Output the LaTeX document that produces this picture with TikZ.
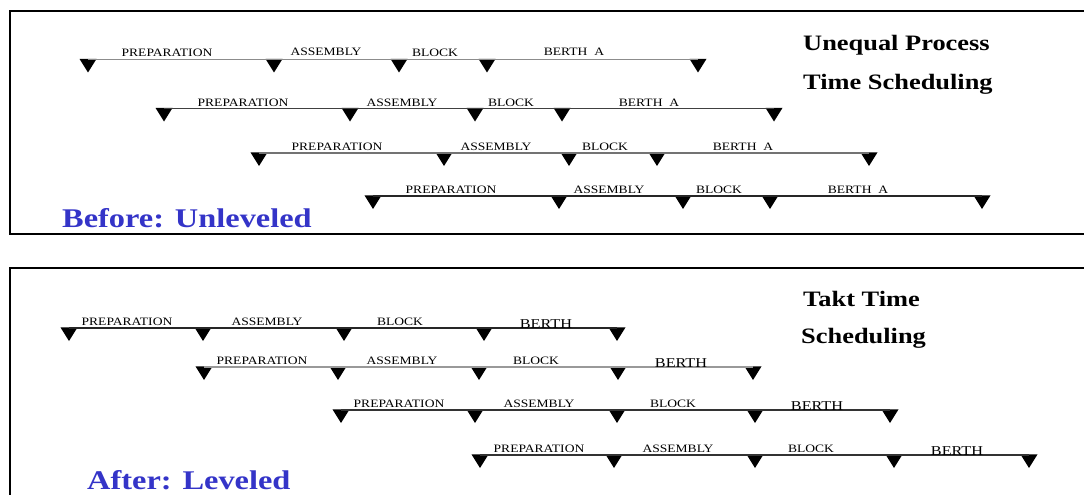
\documentclass[tikz,border=0pt]{standalone}
\usepackage{fontspec}
\newfontfamily\schedfont{Liberation Serif}[FakeStretch=1.2]
\usetikzlibrary{positioning}
\definecolor{phaseblue}{RGB}{52,52,200}

\begin{document}
\begin{tikzpicture}[
        x=1pt, y=-1pt,
        frame/.style={draw=black, line width=2.4pt},
        bar/.style={line width=1.3pt},
        lbl/.style={font=\schedfont\fontsize{11.3}{11.3}\selectfont, inner sep=0pt, anchor=base},
        berth/.style={font=\schedfont\fontsize{13.5}{13.5}\selectfont, inner sep=0pt, anchor=base},
        title/.style={font=\schedfont\bfseries\fontsize{22}{22}\selectfont, inner sep=0pt, anchor=base west},
        phase/.style={font=\schedfont\bfseries\fontsize{27}{27}\selectfont, text=phaseblue, inner sep=0pt, anchor=base west},
        pics/tri/.style={code={\fill (-8.5,-0.6) -- (8.5,-0.6) -- (0,13) -- cycle;}}
    ]
        \useasboundingbox (0,0) rectangle (1084,495);

        % frames
        \draw[frame] (1090,11) -- (10,11) -- (10,234) -- (1090,234);
        \draw[frame] (1090,268) -- (10,268) -- (10,500);

        % before: unequal process times
        \path (88,59.5) coordinate (u1a) pic{tri} (274,59.5) coordinate (u1b) pic{tri} (399,59.5) coordinate (u1c) pic{tri} (487,59.5) coordinate (u1d) pic{tri} (698,59.5) coordinate (u1e) pic{tri};
        \path (164,108.5) coordinate (u2a) pic{tri} (350,108.5) coordinate (u2b) pic{tri} (475,108.5) coordinate (u2c) pic{tri} (562,108.5) coordinate (u2d) pic{tri} (774,108.5) coordinate (u2e) pic{tri};
        \path (259,153) coordinate (u3a) pic{tri} (444,153) coordinate (u3b) pic{tri} (569,153) coordinate (u3c) pic{tri} (657,153) coordinate (u3d) pic{tri} (869,153) coordinate (u3e) pic{tri};
        \path (373,196) coordinate (u4a) pic{tri} (559,196) coordinate (u4b) pic{tri} (683,196) coordinate (u4c) pic{tri} (770,196) coordinate (u4d) pic{tri} (982,196) coordinate (u4e) pic{tri};

        \draw[bar, black!45] (u1a) -- (u1b) -- (u1c) -- (u1d) -- (u1e);
        \draw[bar, black!75] (u2a) -- (u2b) -- (u2c) -- (u2d) -- (u2e);
        \draw[bar, black!55] (u3a) -- (u3b) -- (u3c) -- (u3d) -- (u3e);
        \draw[bar, black!85] (u4a) -- (u4b) -- (u4c) -- (u4d) -- (u4e);

        \node[lbl] (u1p) at (167,57) {PREPARATION};
        \node[lbl] (u1s) at (326,55.5) {ASSEMBLY};
        \node[lbl] (u1k) at (435,57) {BLOCK};
        \node[lbl] (u1h) at (574,56) {BERTH\ \ A};
        \node[lbl] (u2p) at (243,106) {PREPARATION};
        \node[lbl] (u2s) at (402,106) {ASSEMBLY};
        \node[lbl] (u2k) at (511,106) {BLOCK};
        \node[lbl] (u2h) at (649,106) {BERTH\ \ A};
        \node[lbl] (u3p) at (337,150.5) {PREPARATION};
        \node[lbl] (u3s) at (496,150.5) {ASSEMBLY};
        \node[lbl] (u3k) at (605,150.5) {BLOCK};
        \node[lbl] (u3h) at (743,150.5) {BERTH\ \ A};
        \node[lbl] (u4p) at (451,193.5) {PREPARATION};
        \node[lbl] (u4s) at (609,193.5) {ASSEMBLY};
        \node[lbl] (u4k) at (719,193.5) {BLOCK};
        \node[lbl] (u4h) at (858,193.5) {BERTH\ \ A};

        \node[title] (unequal) at (803,50.5) {Unequal Process};
        \node[title] (unequal2) at (803,89) {Time Scheduling};
        \node[phase] (before) at (62,227) {Before: Unleveled};

        % after: takt time
        \path (69,328) coordinate (t1a) pic{tri} (203,328) coordinate (t1b) pic{tri} (344,328) coordinate (t1c) pic{tri} (484,328) coordinate (t1d) pic{tri} (617,328) coordinate (t1e) pic{tri};
        \path (204,367) coordinate (t2a) pic{tri} (338,367) coordinate (t2b) pic{tri} (479,367) coordinate (t2c) pic{tri} (618,367) coordinate (t2d) pic{tri} (753,367) coordinate (t2e) pic{tri};
        \path (341,410) coordinate (t3a) pic{tri} (475,410) coordinate (t3b) pic{tri} (617,410) coordinate (t3c) pic{tri} (755,410) coordinate (t3d) pic{tri} (890,410) coordinate (t3e) pic{tri};
        \path (480,455) coordinate (t4a) pic{tri} (614,455) coordinate (t4b) pic{tri} (755,455) coordinate (t4c) pic{tri} (894,455) coordinate (t4d) pic{tri} (1029,455) coordinate (t4e) pic{tri};

        \draw[bar, black!85] (t1a) -- (t1b) -- (t1c) -- (t1d) -- (t1e);
        \draw[bar, black!40] (t2a) -- (t2b) -- (t2c) -- (t2d) -- (t2e);
        \draw[bar, black!80] (t3a) -- (t3b) -- (t3c) -- (t3d) -- (t3e);
        \draw[bar, black!80] (t4a) -- (t4b) -- (t4c) -- (t4d) -- (t4e);

        \node[lbl] (t1p) at (127,325.5) {PREPARATION};
        \node[lbl] (t1s) at (267,325.5) {ASSEMBLY};
        \node[lbl] (t1k) at (400,325.5) {BLOCK};
        \node[berth] (t1h) at (546,328.5) {BERTH};
        \node[lbl] (t2p) at (262,364.5) {PREPARATION};
        \node[lbl] (t2s) at (402,364.5) {ASSEMBLY};
        \node[lbl] (t2k) at (536,364.5) {BLOCK};
        \node[berth] (t2h) at (681,367) {BERTH};
        \node[lbl] (t3p) at (399,407.5) {PREPARATION};
        \node[lbl] (t3s) at (539,407.5) {ASSEMBLY};
        \node[lbl] (t3k) at (673,407.5) {BLOCK};
        \node[berth] (t3h) at (817,410.5) {BERTH};
        \node[lbl] (t4p) at (539,452.5) {PREPARATION};
        \node[lbl] (t4s) at (678,452.5) {ASSEMBLY};
        \node[lbl] (t4k) at (811,452.5) {BLOCK};
        \node[berth] (t4h) at (957,455.5) {BERTH};

        \node[title] (takt) at (803,306) {Takt Time};
        \node[title] (takt2) at (801,343) {Scheduling};
        \node[phase] (after) at (87,489.5) {After: Leveled};
    \end{tikzpicture}
\end{document}
